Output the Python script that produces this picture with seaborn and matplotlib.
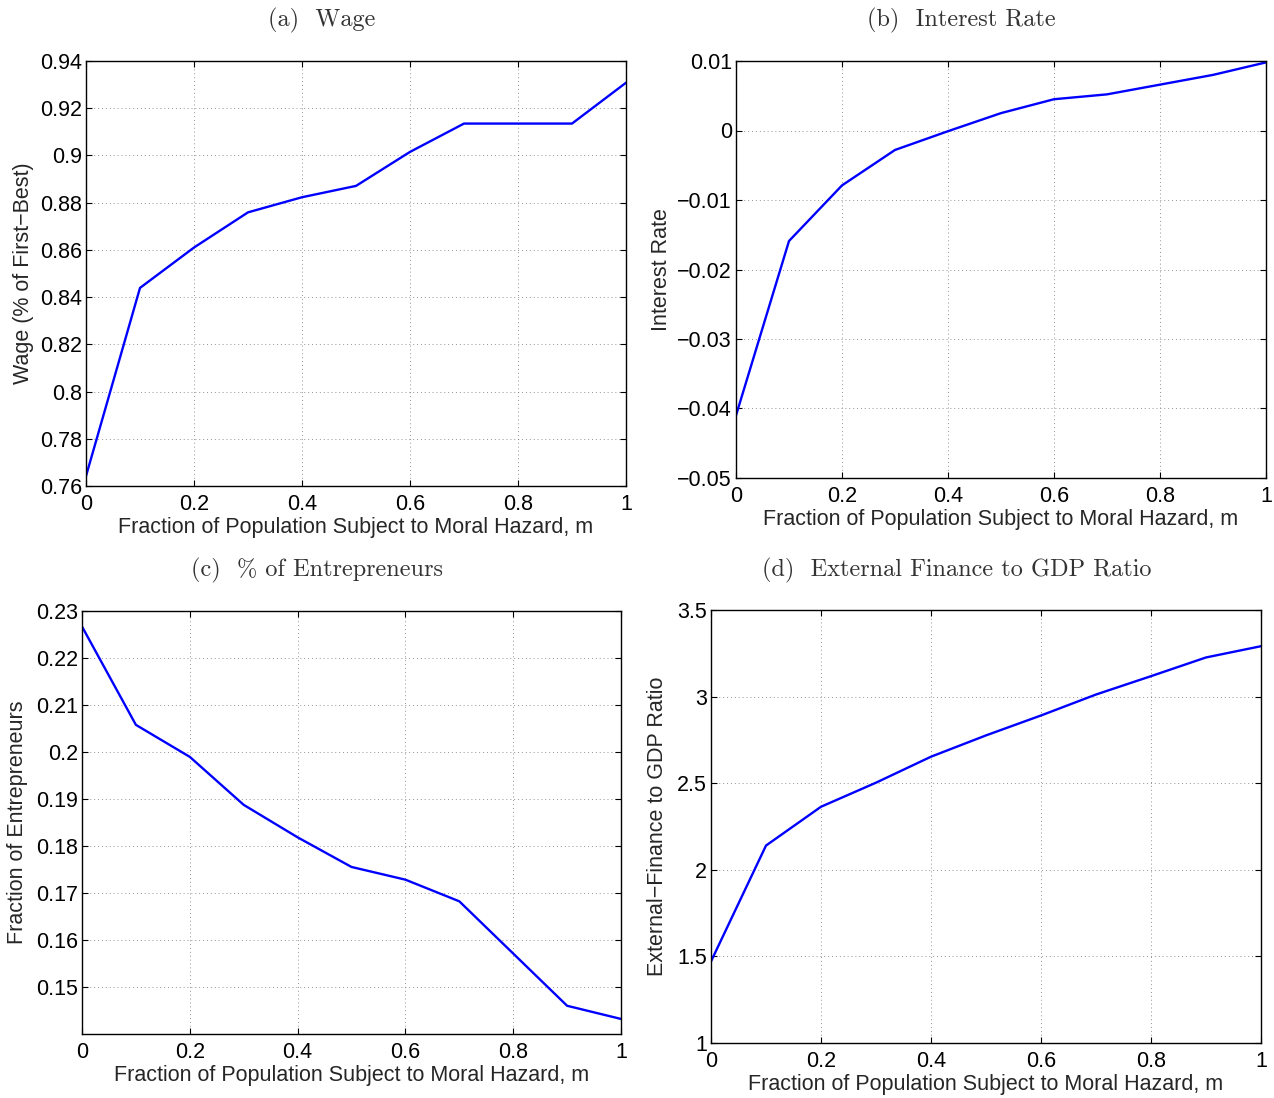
import matplotlib
matplotlib.use("Agg")
import matplotlib.pyplot as plt
from matplotlib.ticker import FuncFormatter, FixedLocator
import seaborn as sns
import pandas as pd

# Fraction of population subject to moral hazard
m = [0.0, 0.1, 0.2, 0.3, 0.4, 0.5, 0.6, 0.7, 0.8, 0.9, 1.0]

wage = [0.7642, 0.8439, 0.8610, 0.8759, 0.8823, 0.8871, 0.9015, 0.9135, 0.9135, 0.9135, 0.9308]
interest = [-0.0410, -0.0159, -0.0079, -0.0028, -0.0001, 0.0025, 0.0045, 0.0052, 0.0066, 0.0080, 0.0098]
entrepreneurs = [0.2267, 0.2058, 0.1990, 0.1888, 0.1819, 0.1756, 0.1729, 0.1683, 0.1572, 0.1461, 0.1433]
ext_finance = [1.471, 2.140, 2.364, 2.503, 2.653, 2.776, 2.891, 3.012, 3.118, 3.226, 3.291]

xticks = [0, 0.2, 0.4, 0.6, 0.8, 1.0]
yticks_a = [0.76, 0.78, 0.80, 0.82, 0.84, 0.86, 0.88, 0.90, 0.92, 0.94]
yticks_b = [-0.05, -0.04, -0.03, -0.02, -0.01, 0.0, 0.01]
yticks_c = [0.15, 0.16, 0.17, 0.18, 0.19, 0.20, 0.21, 0.22, 0.23]
yticks_d = [1.0, 1.5, 2.0, 2.5, 3.0, 3.5]

titles = ["(a)  Wage", "(b)  Interest Rate", "(c)  % of Entrepreneurs",
          "(d)  External Finance to GDP Ratio"]
ylabels = ["Wage (% of First\u2212Best)", "Interest Rate", "Fraction of Entrepreneurs",
           "External\u2212Finance to GDP Ratio"]
xlabel = "Fraction of Population Subject to Moral Hazard, m"

df = pd.DataFrame({"m": m, "wage": wage, "interest": interest,
                   "entrepreneurs": entrepreneurs, "ext_finance": ext_finance})

sns.set_style("ticks")
plt.rcParams["font.family"] = ["Liberation Sans", "DejaVu Sans"]
plt.rcParams["axes.unicode_minus"] = True

W, H = 1274, 1098
fig = plt.figure(figsize=(W / 100, H / 100), dpi=100)

# panel boxes in pixels: left, top, right, bottom
boxes = [(86, 61, 626, 486), (736, 61, 1266, 478),
         (82, 611, 621, 1034), (711, 610, 1261, 1043)]
panels = [("wage", yticks_a, (0.76, 0.94)),
          ("interest", yticks_b, (-0.05, 0.01)),
          ("entrepreneurs", yticks_c, (0.1401, 0.23)),
          ("ext_finance", yticks_d, (1.0, 3.5))]
ylab_right = [34, 672, 28, 668]
title_pos = [(322, 20), (961, 20), (317, 570), (957, 570)]


def fmt(v, _pos):
    s = f"{v:g}"
    return s.replace("-", "\u2212")


for i, ((l, t, r, b), (col, yt, ylim)) in enumerate(zip(boxes, panels)):
    ax = fig.add_axes([l / W, 1 - b / H, (r - l) / W, (b - t) / H])
    sns.lineplot(data=df, x="m", y=col, ax=ax, color="#0000ff", linewidth=1.7)
    ax.set_xlim(0, 1)
    ax.set_ylim(*ylim)
    ax.xaxis.set_major_locator(FixedLocator(xticks))
    ax.yaxis.set_major_locator(FixedLocator(yt))
    ax.xaxis.set_major_formatter(FuncFormatter(fmt))
    ax.yaxis.set_major_formatter(FuncFormatter(fmt))
    ax.tick_params(direction="in", length=4, width=0.8, top=True, right=True,
                   labelsize=15.5, colors="black")
    ax.tick_params(axis="x", pad=6)
    ax.tick_params(axis="y", pad=3)
    for sp in ax.spines.values():
        sp.set_linewidth(1.0)
        sp.set_color("black")
    ax.grid(True, linestyle=(0, (1, 3)), color="#777777", linewidth=0.7, alpha=0.8)
    ax.set_xlabel(xlabel, fontsize=15.5, labelpad=1)
    ax.set_ylabel(ylabels[i], fontsize=15.5)
    ax.yaxis.set_label_coords((ylab_right[i] - l) / (r - l), 0.5)
    tx, ty = title_pos[i]
    fig.text(tx / W, 1 - ty / H, titles[i], fontsize=17.5, family="cmr10",
             ha="center", va="center", color="#333333")

fig.savefig("out.png", dpi=100)
